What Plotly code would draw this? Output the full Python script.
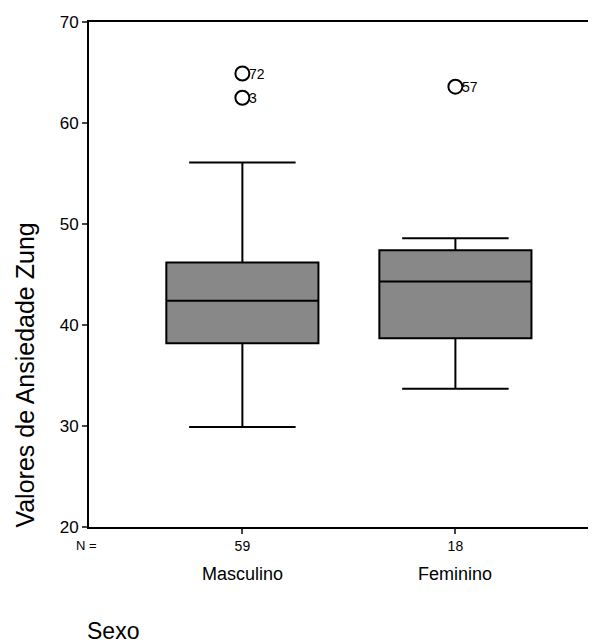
import plotly.graph_objects as go

categories = ["Masculino", "Feminino"]
n_counts = ["59", "18"]
q1 = [38.2, 38.7]
median = [42.4, 44.3]
q3 = [46.2, 47.4]
lower_whisker = [29.9, 33.7]
upper_whisker = [56.1, 48.6]
outlier_cat = ["Masculino", "Masculino", "Feminino"]
outlier_val = [64.9, 62.5, 63.6]
outlier_id = ["72", "3", "57"]
y_ticks = [20, 30, 40, 50, 60, 70]

FONT = "Liberation Sans, Arial, sans-serif"

fig = go.Figure()
fig.add_trace(go.Box(
    x=categories, q1=q1, median=median, q3=q3,
    lowerfence=lower_whisker, upperfence=upper_whisker,
    width=0.714, whiskerwidth=0.7,
    fillcolor="#888888", line=dict(color="black", width=2),
    boxpoints=False, showlegend=False, hoverinfo="skip",
))
fig.add_trace(go.Scatter(
    x=outlier_cat, y=outlier_val, mode="markers",
    marker=dict(symbol="circle-open", size=14, color="black", line=dict(width=2)),
    showlegend=False, hoverinfo="skip",
))

fig.update_layout(
    width=588, height=635,
    margin=dict(l=81, r=0, t=14, b=116),
    plot_bgcolor="white", paper_bgcolor="white",
    font=dict(family=FONT, color="black"),
    xaxis=dict(
        type="category", range=[-0.72, 1.66],
        tickmode="array", tickvals=categories, ticktext=n_counts,
        tickfont=dict(size=14), ticks="outside", ticklen=5, tickwidth=1.5,
        showline=True, linecolor="black", linewidth=2, mirror=True,
        showgrid=False, zeroline=False,
    ),
    yaxis=dict(
        range=[20, 70], tickvals=y_ticks,
        tickfont=dict(size=17), ticks="outside", ticklen=5, tickwidth=1.5,
        showline=True, linecolor="black", linewidth=2,
        showgrid=False, zeroline=False,
    ),
)

annotations = [
    dict(text="N =", x=-0.004, y=-0.036, xref="paper", yref="paper",
         showarrow=False, font=dict(size=13), xanchor="center", yanchor="middle"),
    dict(text="Valores de Ansiedade Zung", x=-0.128, y=0.30, xref="paper", yref="paper",
         textangle=-90, showarrow=False, font=dict(size=25), xanchor="center", yanchor="middle"),
    dict(text="Sexo", x=0.047, y=-0.206, xref="paper", yref="paper",
         showarrow=False, font=dict(size=23), xanchor="center", yanchor="middle"),
]
for c in categories:
    annotations.append(dict(text=c, x=c, y=-0.093, xref="x", yref="paper",
                            showarrow=False, font=dict(size=18),
                            xanchor="center", yanchor="middle"))
for c, v, t in zip(outlier_cat, outlier_val, outlier_id):
    annotations.append(dict(text=t, x=c, y=v, xref="x", yref="y",
                            showarrow=False, font=dict(size=14),
                            xanchor="left", yanchor="middle", xshift=5))
fig.update_layout(annotations=annotations)

fig.write_html("out.html")
